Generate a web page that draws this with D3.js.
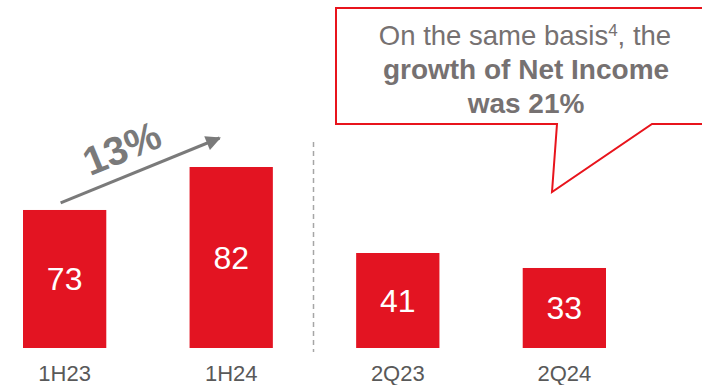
<!DOCTYPE html>
<html>
<head>
<meta charset="utf-8">
<script src="https://cdn.jsdelivr.net/npm/d3@7"></script>
<style>
  html, body { margin: 0; padding: 0; background: #fff; }
  svg { display: block; font-family: "Liberation Sans", Arial, sans-serif; }
</style>
</head>
<body>
<div id="chart"></div>
<script>
var periods = ['1H23', '1H24', '2Q23', '2Q24'];
var netIncome = [73, 82, 41, 33];
var halfYear = ['1H23', '1H24'];
var growthLabel = '13%';

var w = 702,
  h = 385;

var red = '#e31422',
  grey = '#767171';

var svg = d3.select('#chart')
  .append('svg')
  .attr('width', w)
  .attr('height', h);

var x = d3.scaleBand()
  .domain(periods)
  .range([23, 606])
  .paddingInner(0.5)
  .paddingOuter(0);

// The source does not draw the two groups to a common scale.
var yHalf = d3.scaleLinear().domain([44.1, 82]).range([348, 167]);
var yQuarter = d3.scaleLinear().domain([-9.7, 41]).range([348, 253]);

function y(p, v) {
  return halfYear.indexOf(p) >= 0 ? yHalf(v) : yQuarter(v);
}

var data = periods.map(function (p, i) {
  return { p: p, v: netIncome[i] };
});

// Bars.
svg.selectAll('rect.bar')
  .data(data)
  .enter()
  .append('rect')
  .attr('class', 'bar')
  .attr('x', function (d) { return x(d.p); })
  .attr('y', function (d) { return y(d.p, d.v); })
  .attr('width', x.bandwidth())
  .attr('height', function (d) { return 348 - y(d.p, d.v); })
  .style('fill', red);

// Values inside bars.
svg.selectAll('text.val')
  .data(data)
  .enter()
  .append('text')
  .attr('class', 'val')
  .attr('x', function (d) { return x(d.p) + x.bandwidth() / 2; })
  .attr('y', function (d) { return (y(d.p, d.v) + 348) / 2 + 11; })
  .attr('text-anchor', 'middle')
  .style('font-size', '32px')
  .style('fill', '#fff')
  .text(function (d) { return d.v; });

// Category labels along the bottom edge.
var xAxis = svg.append('g')
  .attr('transform', 'translate(0,381)')
  .call(d3.axisBottom(x).tickSize(0).tickPadding(0));
xAxis.select('.domain').remove();
xAxis.selectAll('text')
  .attr('dy', 0)
  .style('font-family', '"Liberation Sans", Arial, sans-serif')
  .style('font-size', '22px')
  .style('fill', '#595959');

// Dashed divider between halves and quarters.
var divX = (x('1H24') + x.bandwidth() + x('2Q23')) / 2 - 1;
svg.append('line')
  .attr('x1', divX).attr('x2', divX)
  .attr('y1', 142).attr('y2', 352)
  .style('stroke', '#a6a6a6')
  .style('stroke-width', 1.5)
  .style('stroke-dasharray', '5,4');

// Growth arrow.
var defs = svg.append('defs');
defs.append('marker')
  .attr('id', 'head')
  .attr('viewBox', '0 0 10 10')
  .attr('refX', 9)
  .attr('refY', 5)
  .attr('markerWidth', 5.5)
  .attr('markerHeight', 5)
  .attr('markerUnits', 'strokeWidth')
  .attr('orient', 'auto')
  .append('path')
  .attr('d', 'M0,0 L10,5 L0,10 Z')
  .style('fill', '#7a7a7a');

var ax1 = x('1H23') + x.bandwidth() / 2 - 4,
  ay1 = yHalf(73) - 7,
  ax2 = x('1H24') + 30,
  ay2 = yHalf(82) - 29;

svg.append('line')
  .attr('x1', ax1).attr('y1', ay1)
  .attr('x2', ax2).attr('y2', ay2)
  .style('stroke', '#7a7a7a')
  .style('stroke-width', 3)
  .attr('marker-end', 'url(#head)');

var ang = Math.atan2(ay2 - ay1, ax2 - ax1) * 180 / Math.PI;
svg.append('text')
  .attr('transform', 'translate(127,161) rotate(' + ang + ')')
  .attr('text-anchor', 'middle')
  .style('font-size', '40px')
  .style('font-weight', 'bold')
  .style('fill', '#7a7a7a')
  .text(growthLabel);

// Callout box.
svg.append('path')
  .attr('d', 'M336,8 L714,8 L714,124 L652,124 L552,192 L557,124 L336,124 Z')
  .style('fill', '#fff')
  .style('stroke', '#e8141c')
  .style('stroke-width', 2);

var note = svg.append('text')
  .attr('text-anchor', 'middle')
  .style('font-size', '27.5px')
  .style('fill', grey);

var l1 = note.append('tspan').attr('x', 525).attr('y', 45);
l1.append('tspan').text('On the same basis');
l1.append('tspan')
  .attr('dy', -9)
  .style('font-size', '17px')
  .text('4');
l1.append('tspan')
  .attr('dy', 9)
  .text(', the');

note.append('tspan')
  .attr('x', 526).attr('y', 79)
  .style('font-weight', 'bold')
  .style('font-size', '28px')
  .text('growth of Net Income');
note.append('tspan')
  .attr('x', 526).attr('y', 113)
  .style('font-weight', 'bold')
  .style('font-size', '28px')
  .text('was 21%');
</script>
</body>
</html>
